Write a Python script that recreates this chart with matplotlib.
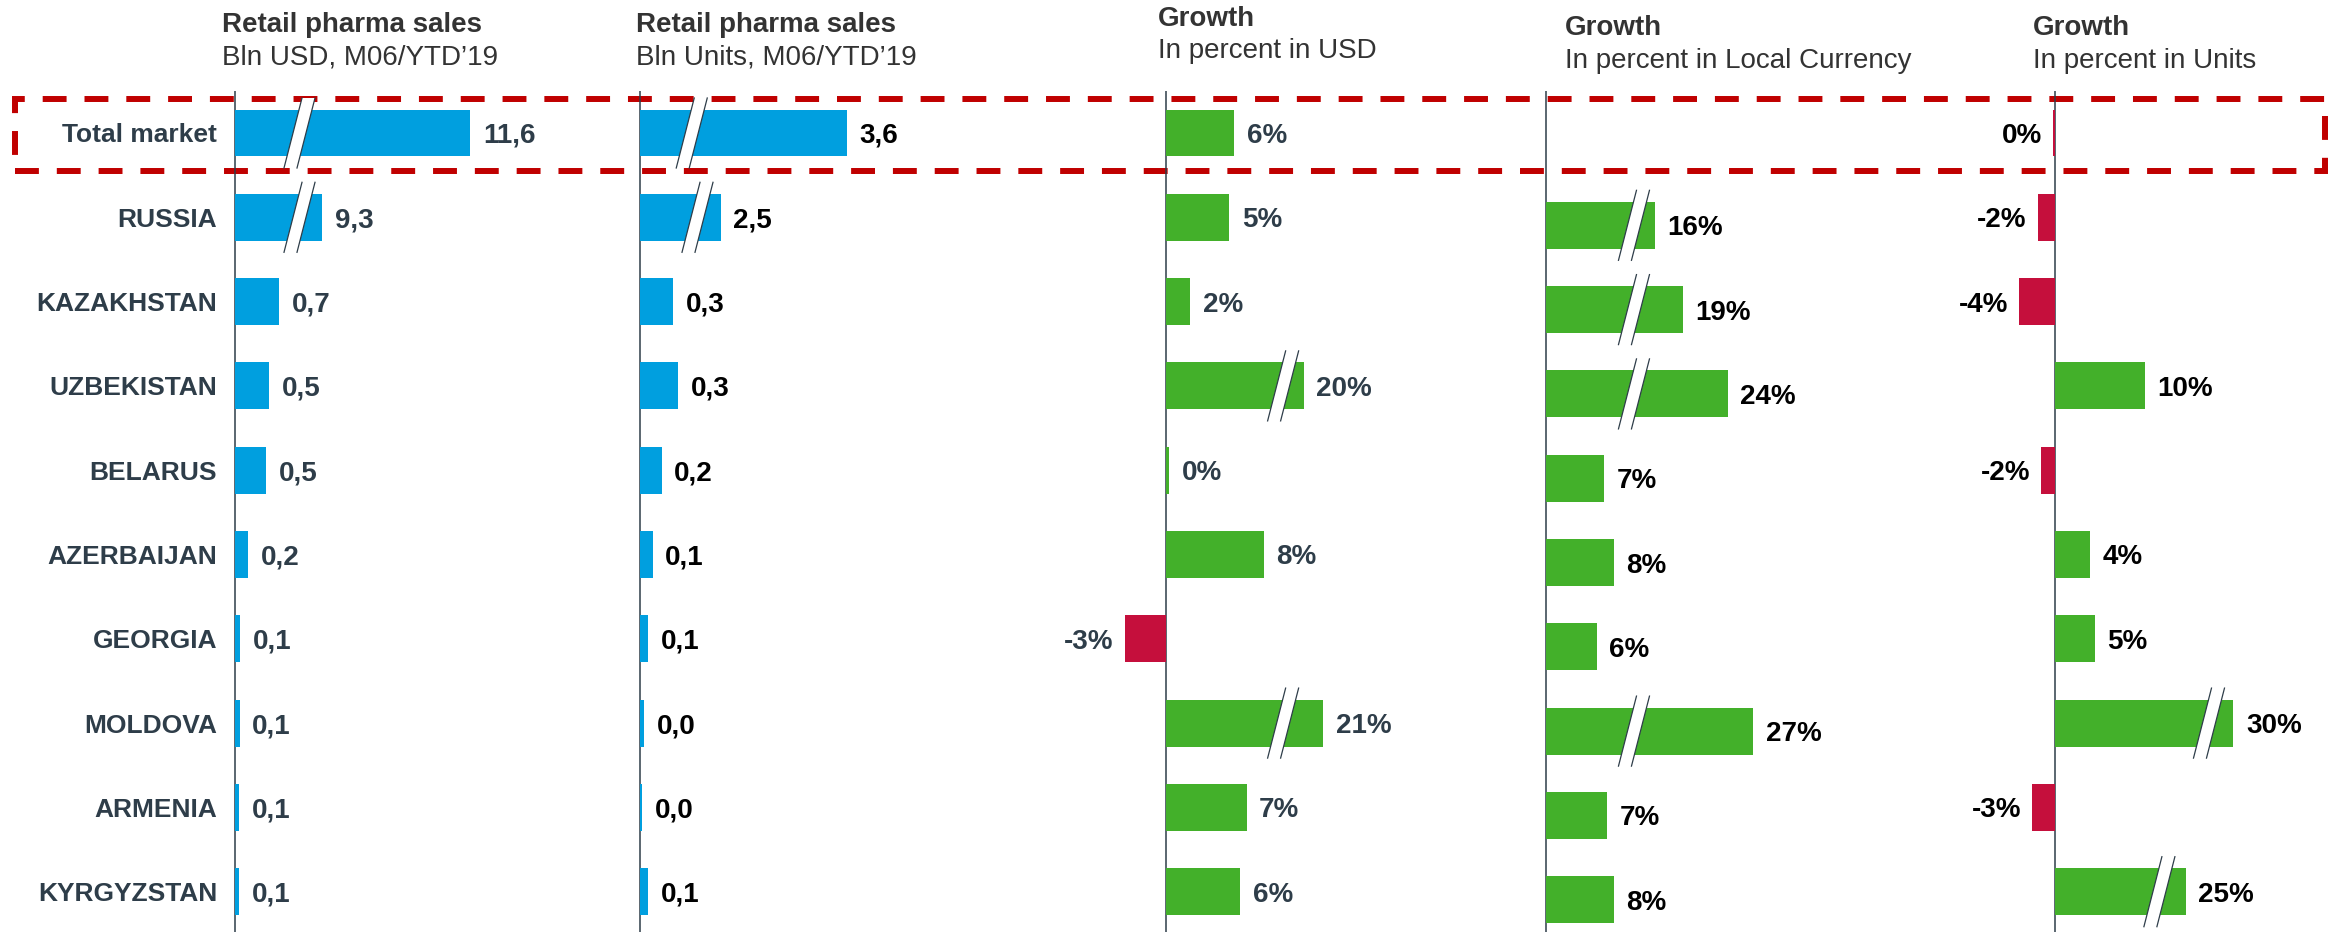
import matplotlib
matplotlib.use('Agg')
import matplotlib.pyplot as plt
from matplotlib.patches import Rectangle, Polygon
from matplotlib.lines import Line2D
from matplotlib.transforms import IdentityTransform

plt.rcParams['font.family'] = ['Liberation Sans', 'DejaVu Sans']

# data
countries = ['Total market', 'RUSSIA', 'KAZAKHSTAN', 'UZBEKISTAN', 'BELARUS',
             'AZERBAIJAN', 'GEORGIA', 'MOLDOVA', 'ARMENIA', 'KYRGYZSTAN']
sales_usd = [11.6, 9.3, 0.69, 0.53, 0.49, 0.21, 0.09, 0.08, 0.07, 0.07]
sales_units = [3.6, 2.5, 0.29, 0.33, 0.19, 0.11, 0.07, 0.035, 0.02, 0.07]
growth_usd = [5.6, 5.2, 2.0, 20, 0.25, 8.0, -3.4, 21, 6.6, 6.1]
growth_lc = [None, 16, 19, 24, 6.8, 8.0, 6.0, 27, 7.2, 8.0]
growth_units = [-0.2, -2.0, -4.1, 10.3, -1.6, 4.0, 4.6, 30, -2.6, 25]

# bars with a "//" break: shortened length drawn
usd_shown = [3.63, 1.35, None, None, None, None, None, None, None, None]
units_shown = [1.8, 0.7, None, None, None, None, None, None, None, None]
gusd_shown = [None, None, None, 11.3, None, None, None, 12.9, None, None]
glc_shown = [None, 12.8, 16.1, 21.4, None, None, None, 24.4, None, None]
gunits_shown = [None, None, None, None, None, None, None, 20.5, None, 15.0]

titles = [('Retail pharma sales', 'Bln USD, M06/YTD\u201919'),
          ('Retail pharma sales', 'Bln Units, M06/YTD\u201919'),
          ('Growth', 'In percent in USD'),
          ('Growth', 'In percent in Local Currency'),
          ('Growth', 'In percent in Units')]

BLUE = '#009FDF'
GREEN = '#43B02A'
RED = '#C50F3C'
SLATE = '#2E3D49'
GREY = '#333333'

W, H = 2331, 932
TOP, ROW0, ROW = 91, 133, 84.3
fig = plt.figure(figsize=(W / 100, H / 100), dpi=100)


def make_ax(x0, ppu, left, right):
    ax = fig.add_axes([left / W, 0, (right - left) / W, (H - TOP) / H])
    ax.set_xlim((left - x0) / ppu, (right - x0) / ppu)
    ax.set_ylim((H - ROW0) / ROW, (TOP - ROW0) / ROW)
    ax.set_axis_off()
    ax.axvline(0, color=SLATE, lw=1.1, zorder=1)
    return ax


def draw_break(ax, x, y):
    cx, cy = ax.transData.transform((x, y))
    h, s, w = 35, 9, 6.5
    left = [(cx - w - s, cy - h), (cx - w + s, cy + h)]
    right = [(cx + w - s, cy - h), (cx + w + s, cy + h)]
    fig.add_artist(Polygon(left + right[::-1], closed=True, fc='white', ec='none',
                           transform=IdentityTransform(), zorder=5))
    for pts in (left, right):
        fig.add_artist(Line2D([pts[0][0], pts[1][0]], [pts[0][1], pts[1][1]],
                              color=SLATE, lw=0.9, transform=IdentityTransform(), zorder=6))


def draw_col(ax, vals, shown, cuts, fmt, txt_color, blue=False, shift=0.0):
    for i, v in enumerate(vals):
        if v is None:
            continue
        y = i + shift
        length = shown[i] if shown[i] is not None else v
        if blue:
            c = BLUE
        else:
            c = GREEN if v >= 0 else RED
        ax.barh(y, length, height=0.557, color=c, zorder=2)
        if length >= 0:
            ax.annotate(fmt(v), xy=(length, y), xytext=(9, 0), textcoords='offset points',
                        ha='left', va='center_baseline', fontsize=20, fontweight='bold',
                        color=txt_color)
        else:
            ax.annotate(fmt(v), xy=(length, y), xytext=(-8, 0), textcoords='offset points',
                        ha='right', va='center_baseline', fontsize=20, fontweight='bold',
                        color=txt_color)
        if cuts[i] is not None:
            draw_break(ax, cuts[i], y)


dec = lambda v: f'{v:.1f}'.replace('.', ',')
pct = lambda v: f'{round(v):d}%'

ax1 = make_ax(234.5, 65, 200, 620)
ax2 = make_ax(640, 115, 600, 1000)
ax3 = make_ax(1166, 12.2, 1050, 1450)
ax4 = make_ax(1546, 8.5, 1460, 1900)
ax5 = make_ax(2055, 8.7, 1960, 2331)

draw_col(ax1, sales_usd, usd_shown, [1.0, 1.0] + [None] * 8, dec, SLATE, blue=True)
draw_col(ax2, sales_units, units_shown, [0.45, 0.5] + [None] * 8, dec, 'black', blue=True)
draw_col(ax3, growth_usd, gusd_shown,
         [None, None, None, 9.6, None, None, None, 9.6, None, None], pct, SLATE)
draw_col(ax4, growth_lc, glc_shown,
         [None, 10.35, 10.35, 10.35, None, None, None, 10.35, None, None], pct, 'black',
         shift=0.095)
draw_col(ax5, growth_units, gunits_shown,
         [None] * 7 + [17.7, None, 12.0], pct, 'black')

for i, name in enumerate(countries):
    ax1.annotate(name, xy=(0, i), xytext=(-12.6, 0), textcoords='offset points',
                 ha='right', va='center_baseline', fontsize=19, fontweight='bold',
                 color=SLATE)

# column headers: x, title baseline, subtitle baseline (pixels)
head_pos = [(222, 32, 65), (636, 32, 65), (1158, 26, 58), (1565, 35, 68), (2033, 35, 68)]
for (t, st), (x, b1, b2) in zip(titles, head_pos):
    fig.text(x / W, 1 - b1 / H, t, fontsize=20, fontweight='bold', color=GREY, va='baseline')
    fig.text(x / W, 1 - b2 / H, st, fontsize=20, color=GREY, va='baseline')

# dashed frame round the total market row
fig.add_artist(Rectangle((15 / W, 1 - 171 / H), (2325 - 15) / W, 72 / H,
                         transform=fig.transFigure, fill=False, ec='#C00000',
                         lw=4.3, ls=(0, (4, 3)), zorder=-1))

fig.savefig('out.png', dpi=100)
